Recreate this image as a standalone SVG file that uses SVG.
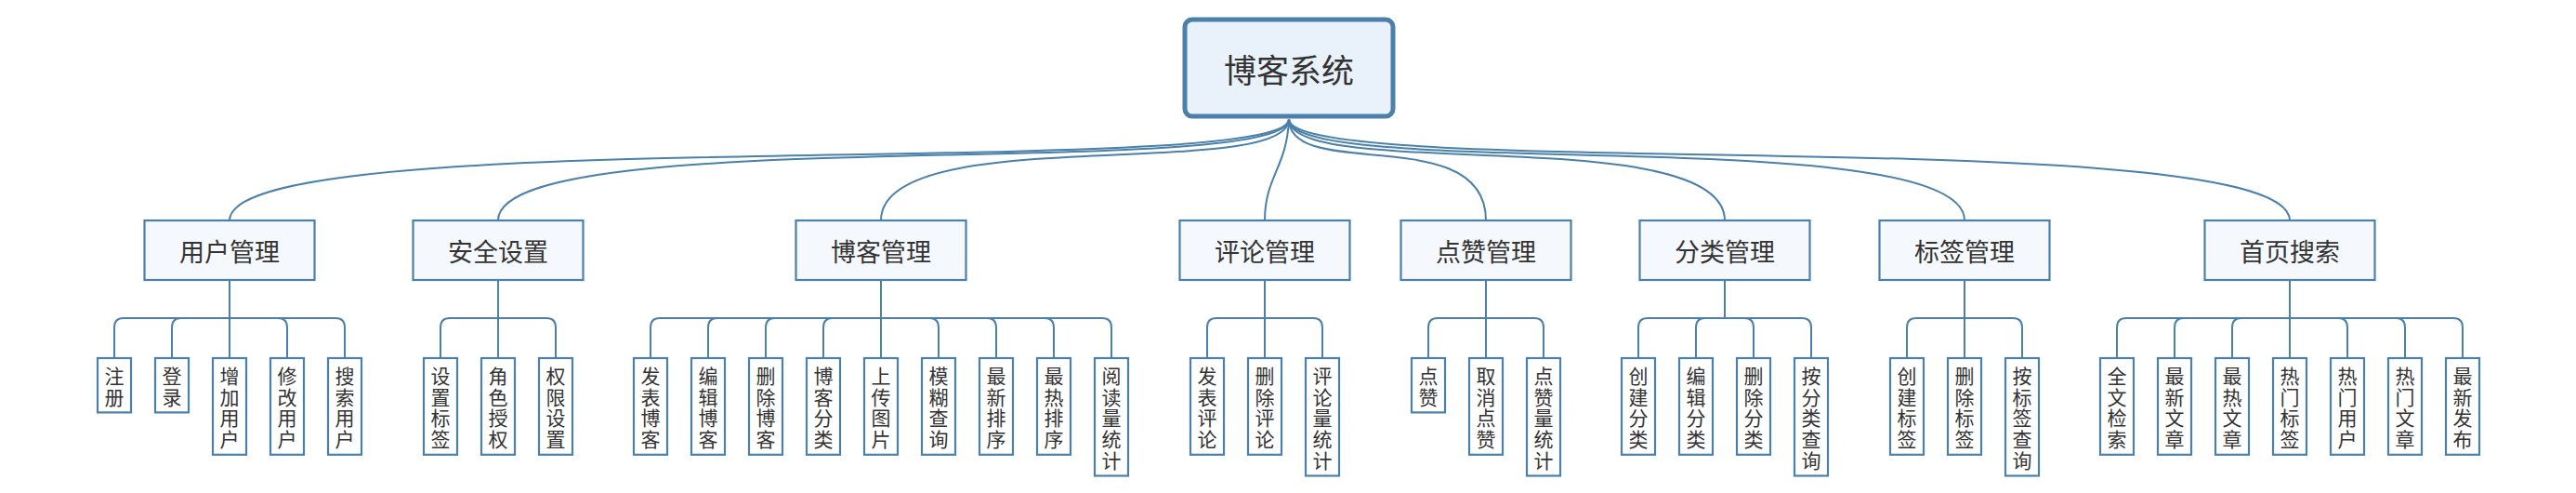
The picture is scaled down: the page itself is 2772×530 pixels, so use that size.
<svg xmlns="http://www.w3.org/2000/svg" width="2772" height="530" viewBox="0 0 2772 530">
<style>
.bg{fill:#ffffff}
.root rect{fill:#e9f1fa;stroke:#4a80aa;stroke-width:5}
.root text{font-family:"Noto Sans CJK SC","Noto Sans",sans-serif;font-size:35px;fill:#333333;text-anchor:middle}
.l1 rect{fill:#f5f8fc;stroke:#4a80aa;stroke-width:2.2}
.l1 text{font-family:"Noto Sans CJK SC","Noto Sans",sans-serif;font-size:27px;fill:#333333;text-anchor:middle}
.lf rect{fill:#ffffff;stroke:#4a80aa;stroke-width:2.2}
.lf text{font-family:"Noto Sans CJK SC","Noto Sans",sans-serif;font-size:21px;fill:#333333;writing-mode:vertical-rl;text-orientation:upright;letter-spacing:1.7px;text-anchor:start}
.conn path{fill:none;stroke:#4a80aa;stroke-width:2}
</style>
<rect class="bg" x="0" y="0" width="2772" height="530"/>
<g id="connectors" class="conn">
<path d="M1387 128 C1387 196 247 130 247 237"/>
<path d="M1387 128 C1387 196 536 130 536 237"/>
<path d="M1387 128 C1387 196 948 130 948 237"/>
<path d="M1387 128 C1385 180 1361 190 1361 237"/>
<path d="M1387 128 C1387 196 1599 130 1599 237"/>
<path d="M1387 128 C1387 196 1856 130 1856 237"/>
<path d="M1387 128 C1387 196 2114 130 2114 237"/>
<path d="M1387 128 C1387 196 2464 130 2464 237"/>
<path d="M247 301 V342 H133 Q123 342 123 352 V385"/>
<path d="M247 301 V342 H195 Q185 342 185 352 V385"/>
<path d="M247 301 V385"/>
<path d="M247 301 V342 H299 Q309 342 309 352 V385"/>
<path d="M247 301 V342 H361 Q371 342 371 352 V385"/>
<path d="M536 301 V342 H484 Q474 342 474 352 V385"/>
<path d="M536 301 V385"/>
<path d="M536 301 V342 H588 Q598 342 598 352 V385"/>
<path d="M948 301 V342 H710 Q700 342 700 352 V385"/>
<path d="M948 301 V342 H772 Q762 342 762 352 V385"/>
<path d="M948 301 V342 H834 Q824 342 824 352 V385"/>
<path d="M948 301 V342 H896 Q886 342 886 352 V385"/>
<path d="M948 301 V385"/>
<path d="M948 301 V342 H1000 Q1010 342 1010 352 V385"/>
<path d="M948 301 V342 H1062 Q1072 342 1072 352 V385"/>
<path d="M948 301 V342 H1124 Q1134 342 1134 352 V385"/>
<path d="M948 301 V342 H1186 Q1196 342 1196 352 V385"/>
<path d="M1361 301 V342 H1309 Q1299 342 1299 352 V385"/>
<path d="M1361 301 V385"/>
<path d="M1361 301 V342 H1413 Q1423 342 1423 352 V385"/>
<path d="M1599 301 V342 H1547 Q1537 342 1537 352 V385"/>
<path d="M1599 301 V385"/>
<path d="M1599 301 V342 H1651 Q1661 342 1661 352 V385"/>
<path d="M1856 301 V342 H1773 Q1763 342 1763 352 V385"/>
<path d="M1856 301 V342 H1835 Q1825 342 1825 352 V385"/>
<path d="M1856 301 V342 H1877 Q1887 342 1887 352 V385"/>
<path d="M1856 301 V342 H1939 Q1949 342 1949 352 V385"/>
<path d="M2114 301 V342 H2062 Q2052 342 2052 352 V385"/>
<path d="M2114 301 V385"/>
<path d="M2114 301 V342 H2166 Q2176 342 2176 352 V385"/>
<path d="M2464 301 V342 H2288 Q2278 342 2278 352 V385"/>
<path d="M2464 301 V342 H2350 Q2340 342 2340 352 V385"/>
<path d="M2464 301 V342 H2412 Q2402 342 2402 352 V385"/>
<path d="M2464 301 V385"/>
<path d="M2464 301 V342 H2516 Q2526 342 2526 352 V385"/>
<path d="M2464 301 V342 H2578 Q2588 342 2588 352 V385"/>
<path d="M2464 301 V342 H2640 Q2650 342 2650 352 V385"/>
</g>
<g id="root" class="root"><rect x="1275" y="21" width="224" height="104" rx="8"/><text x="1387" y="89">博客系统</text></g>
<g id="n-user" class="l1"><rect x="155.5" y="237" width="183" height="64"/><text x="247" y="281">用户管理</text></g>
<g id="n-security" class="l1"><rect x="444.5" y="237" width="183" height="64"/><text x="536" y="281">安全设置</text></g>
<g id="n-blog" class="l1"><rect x="856.5" y="237" width="183" height="64"/><text x="948" y="281">博客管理</text></g>
<g id="n-comment" class="l1"><rect x="1269.5" y="237" width="183" height="64"/><text x="1361" y="281">评论管理</text></g>
<g id="n-like" class="l1"><rect x="1507.5" y="237" width="183" height="64"/><text x="1599" y="281">点赞管理</text></g>
<g id="n-category" class="l1"><rect x="1764.5" y="237" width="183" height="64"/><text x="1856" y="281">分类管理</text></g>
<g id="n-tag" class="l1"><rect x="2022.5" y="237" width="183" height="64"/><text x="2114" y="281">标签管理</text></g>
<g id="n-home" class="l1"><rect x="2372.5" y="237" width="183" height="64"/><text x="2464" y="281">首页搜索</text></g>

<g id="u1" class="lf"><rect x="105" y="385" width="36" height="58.4"/><text x="123" y="393.5">注册</text></g>
<g id="u2" class="lf"><rect x="167" y="385" width="36" height="58.4"/><text x="185" y="393.5">登录</text></g>
<g id="u3" class="lf"><rect x="229" y="385" width="36" height="103.8"/><text x="247" y="393.5">增加用户</text></g>
<g id="u4" class="lf"><rect x="291" y="385" width="36" height="103.8"/><text x="309" y="393.5">修改用户</text></g>
<g id="u5" class="lf"><rect x="353" y="385" width="36" height="103.8"/><text x="371" y="393.5">搜索用户</text></g>

<g id="s1" class="lf"><rect x="456" y="385" width="36" height="103.8"/><text x="474" y="393.5">设置标签</text></g>
<g id="s2" class="lf"><rect x="518" y="385" width="36" height="103.8"/><text x="536" y="393.5">角色授权</text></g>
<g id="s3" class="lf"><rect x="580" y="385" width="36" height="103.8"/><text x="598" y="393.5">权限设置</text></g>

<g id="b1" class="lf"><rect x="682" y="385" width="36" height="103.8"/><text x="700" y="393.5">发表博客</text></g>
<g id="b2" class="lf"><rect x="744" y="385" width="36" height="103.8"/><text x="762" y="393.5">编辑博客</text></g>
<g id="b3" class="lf"><rect x="806" y="385" width="36" height="103.8"/><text x="824" y="393.5">删除博客</text></g>
<g id="b4" class="lf"><rect x="868" y="385" width="36" height="103.8"/><text x="886" y="393.5">博客分类</text></g>
<g id="b5" class="lf"><rect x="930" y="385" width="36" height="103.8"/><text x="948" y="393.5">上传图片</text></g>
<g id="b6" class="lf"><rect x="992" y="385" width="36" height="103.8"/><text x="1010" y="393.5">模糊查询</text></g>
<g id="b7" class="lf"><rect x="1054" y="385" width="36" height="103.8"/><text x="1072" y="393.5">最新排序</text></g>
<g id="b8" class="lf"><rect x="1116" y="385" width="36" height="103.8"/><text x="1134" y="393.5">最热排序</text></g>
<g id="b9" class="lf"><rect x="1178" y="385" width="36" height="126.5"/><text x="1196" y="393.5">阅读量统计</text></g>

<g id="c1" class="lf"><rect x="1281" y="385" width="36" height="103.8"/><text x="1299" y="393.5">发表评论</text></g>
<g id="c2" class="lf"><rect x="1343" y="385" width="36" height="103.8"/><text x="1361" y="393.5">删除评论</text></g>
<g id="c3" class="lf"><rect x="1405" y="385" width="36" height="126.5"/><text x="1423" y="393.5">评论量统计</text></g>

<g id="l1" class="lf"><rect x="1519" y="385" width="36" height="58.4"/><text x="1537" y="393.5">点赞</text></g>
<g id="l2" class="lf"><rect x="1581" y="385" width="36" height="103.8"/><text x="1599" y="393.5">取消点赞</text></g>
<g id="l3" class="lf"><rect x="1643" y="385" width="36" height="126.5"/><text x="1661" y="393.5">点赞量统计</text></g>

<g id="k1" class="lf"><rect x="1745" y="385" width="36" height="103.8"/><text x="1763" y="393.5">创建分类</text></g>
<g id="k2" class="lf"><rect x="1807" y="385" width="36" height="103.8"/><text x="1825" y="393.5">编辑分类</text></g>
<g id="k3" class="lf"><rect x="1869" y="385" width="36" height="103.8"/><text x="1887" y="393.5">删除分类</text></g>
<g id="k4" class="lf"><rect x="1931" y="385" width="36" height="126.5"/><text x="1949" y="393.5">按分类查询</text></g>

<g id="t1" class="lf"><rect x="2034" y="385" width="36" height="103.8"/><text x="2052" y="393.5">创建标签</text></g>
<g id="t2" class="lf"><rect x="2096" y="385" width="36" height="103.8"/><text x="2114" y="393.5">删除标签</text></g>
<g id="t3" class="lf"><rect x="2158" y="385" width="36" height="126.5"/><text x="2176" y="393.5">按标签查询</text></g>

<g id="h1" class="lf"><rect x="2260" y="385" width="36" height="103.8"/><text x="2278" y="393.5">全文检索</text></g>
<g id="h2" class="lf"><rect x="2322" y="385" width="36" height="103.8"/><text x="2340" y="393.5">最新文章</text></g>
<g id="h3" class="lf"><rect x="2384" y="385" width="36" height="103.8"/><text x="2402" y="393.5">最热文章</text></g>
<g id="h4" class="lf"><rect x="2446" y="385" width="36" height="103.8"/><text x="2464" y="393.5">热门标签</text></g>
<g id="h5" class="lf"><rect x="2508" y="385" width="36" height="103.8"/><text x="2526" y="393.5">热门用户</text></g>
<g id="h6" class="lf"><rect x="2570" y="385" width="36" height="103.8"/><text x="2588" y="393.5">热门文章</text></g>
<g id="h7" class="lf"><rect x="2632" y="385" width="36" height="103.8"/><text x="2650" y="393.5">最新发布</text></g>
</svg>
